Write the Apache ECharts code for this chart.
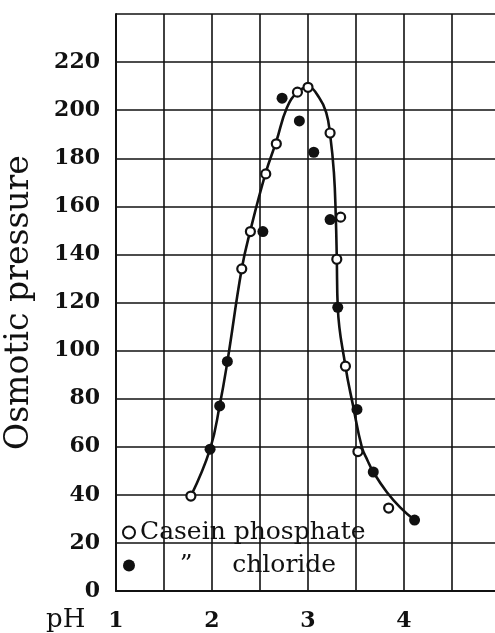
<!DOCTYPE html>
<html>
<head>
<meta charset="utf-8">
<script src="https://cdn.jsdelivr.net/npm/echarts@6/dist/echarts.min.js"></script>
<style>
  html, body { margin: 0; padding: 0; background: #fff; }
  #chart { width: 495px; height: 633px; }
</style>
</head>
<body>
<div id="chart"></div>
<script>
// pH values and osmotic pressure
const phosphateX = [1.78, 2.31, 2.40, 2.56, 2.67, 2.89, 3.00, 3.23, 3.34, 3.30, 3.39, 3.52, 3.84];
const phosphateY = [39.5, 134, 149.5, 173.5, 186, 207.5, 209.5, 190.5, 155.5, 138, 93.5, 58, 34.5];

const chlorideX = [1.98, 2.08, 2.16, 2.53, 2.73, 2.91, 3.06, 3.23, 3.31, 3.51, 3.68, 4.11];
const chlorideY = [59, 77, 95.5, 149.5, 205, 195.5, 182.5, 154.5, 118, 75.5, 49.5, 29.5];

// the drawn curve, traced point by point
const curveX = [1.78, 1.98, 2.08, 2.16, 2.31, 2.40, 2.56, 2.67, 2.78, 2.89, 3.00, 3.12, 3.19, 3.23, 3.27, 3.29, 3.30, 3.31, 3.39, 3.47, 3.56, 3.62, 3.68, 3.82, 3.96, 4.11];
const curveY = [39.5, 59, 77.2, 95.3, 134, 150, 174, 187, 201, 207.5, 209.5, 205, 199, 190, 174, 155, 138, 118, 93.5, 77, 60, 54.3, 49.5, 41.2, 34.8, 29.5];

const xTicks = [1, 2, 3, 4];
const seriesNames = ['Casein phosphate', '     \u201d     chloride'];

const zip = (xs, ys) => xs.map((x, i) => [x, ys[i]]);
const FONT = 'DejaVu Serif';

const chart = echarts.init(document.getElementById('chart'));
chart.setOption({
  animation: false,
  backgroundColor: '#fff',
  grid: { left: 116, top: 14, width: 384, height: 577, outerBoundsMode: 'none', containLabel: false },
  legend: {
    orient: 'vertical',
    left: 117,
    top: 515,
    itemGap: 8,
    itemWidth: 12,
    itemHeight: 12,
    textStyle: { fontFamily: FONT, fontSize: 25, color: '#111' },
    data: [
      { name: seriesNames[0], icon: 'circle', itemStyle: { color: '#fff', borderColor: '#111', borderWidth: 2 } },
      { name: seriesNames[1], icon: 'circle', itemStyle: { color: '#111' } }
    ]
  },
  graphic: [
    // the "pH" caption sits on the tick-label row, left of "1"
    { type: 'text', left: 46, top: 607, style: { text: 'pH', font: '26px "DejaVu Serif"', fill: '#111' } }
  ],
  xAxis: {
    type: 'value',
    min: 1,
    max: 5,
    interval: 0.5,
    axisLine: { show: true, lineStyle: { color: '#111', width: 2 } },
    axisTick: { show: false },
    axisLabel: {
      margin: 19,
      fontFamily: FONT,
      fontSize: 22,
      fontWeight: 'bold',
      color: '#111',
      formatter: v => (xTicks.includes(v) ? String(v) : '')
    },
    splitLine: { show: true, lineStyle: { color: '#111', width: 1.6 } }
  },
  yAxis: {
    type: 'value',
    min: 0,
    max: 240,
    interval: 20,
    name: 'Osmotic pressure',
    nameLocation: 'middle',
    nameGap: 80,
    nameTextStyle: { fontFamily: FONT, fontSize: 33, color: '#111' },
    axisLine: { show: true, lineStyle: { color: '#111', width: 2 } },
    axisTick: { show: false },
    axisLabel: {
      margin: 16,
      fontFamily: FONT,
      fontSize: 22,
      fontWeight: 'bold',
      color: '#111',
      formatter: v => (v === 240 ? '' : String(v))
    },
    splitLine: { show: true, lineStyle: { color: '#111', width: 1.6 } }
  },
  series: [
    {
      name: 'curve',
      type: 'line',
      data: zip(curveX, curveY),
      smooth: 0.45,
      showSymbol: false,
      lineStyle: { color: '#111', width: 2.6 },
      z: 2
    },
    {
      name: seriesNames[0],
      type: 'scatter',
      data: zip(phosphateX, phosphateY),
      symbol: 'circle',
      symbolSize: 9,
      itemStyle: { color: '#fff', borderColor: '#111', borderWidth: 2.2, opacity: 1 },
      z: 3
    },
    {
      name: seriesNames[1],
      type: 'scatter',
      data: zip(chlorideX, chlorideY),
      symbol: 'circle',
      symbolSize: 11,
      itemStyle: { color: '#111', opacity: 1 },
      z: 4
    }
  ]
});
</script>
</body>
</html>
